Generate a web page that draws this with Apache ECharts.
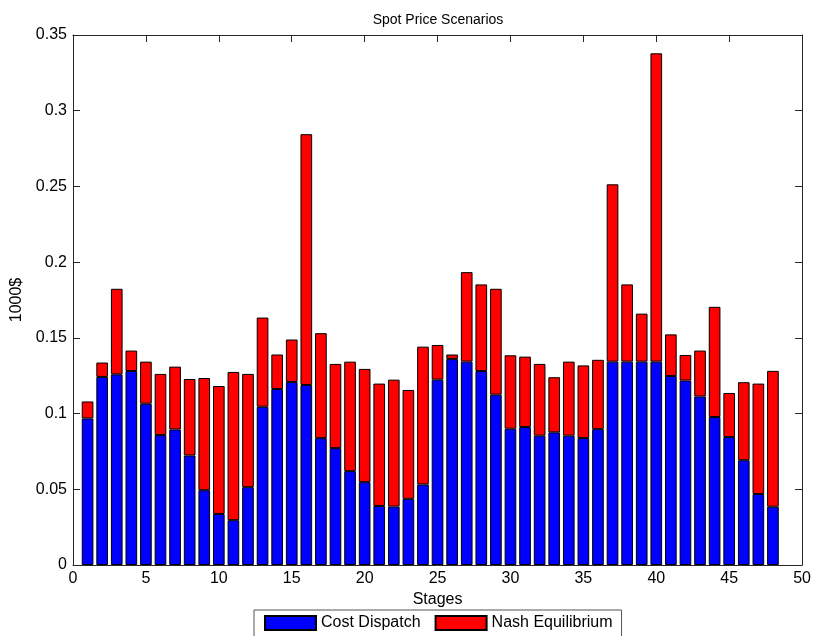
<!DOCTYPE html>
<html>
<head>
<meta charset="utf-8">
<script src="https://cdn.jsdelivr.net/npm/echarts@6/dist/echarts.min.js"></script>
<style>
html,body{margin:0;padding:0;background:#fff;}
#chart{width:814px;height:636px;}
</style>
</head>
<body>
<div id="chart"></div>
<script>
var stages = [1,2,3,4,5,6,7,8,9,10,11,12,13,14,15,16,17,18,19,20,21,22,23,24,25,26,27,28,29,30,31,32,33,34,35,36,37,38,39,40,41,42,43,44,45,46,47,48];
var costDispatch = [0.0968,0.1242,0.1259,0.1281,0.1065,0.0858,0.0895,0.0723,0.0494,0.0337,0.0296,0.0514,0.1045,0.1162,0.1209,0.1189,0.0838,0.0772,0.0620,0.0547,0.0390,0.0386,0.0437,0.0532,0.1224,0.1361,0.1343,0.1281,0.1125,0.0900,0.0911,0.0854,0.0876,0.0854,0.0838,0.0897,0.1343,0.1343,0.1343,0.1343,0.1248,0.1218,0.1113,0.0977,0.0845,0.0692,0.0469,0.0385];
var nashEquilibrium = [0.0112,0.0095,0.0565,0.0135,0.0278,0.0404,0.0415,0.0505,0.0741,0.0845,0.0979,0.0748,0.0589,0.0228,0.0280,0.1656,0.0693,0.0556,0.0723,0.0748,0.0808,0.0838,0.0719,0.0910,0.0229,0.0029,0.0591,0.0572,0.0699,0.0485,0.0465,0.0474,0.0364,0.0489,0.0480,0.0458,0.1171,0.0510,0.0317,0.2036,0.0275,0.0169,0.0303,0.0728,0.0291,0.0515,0.0729,0.0897];
var seriesNames = ['Cost Dispatch', 'Nash Equilibrium'];
var xTicks = {min: 0, max: 50, interval: 5};
var yTicks = {min: 0, max: 0.35, interval: 0.05};

var font = 'Liberation Sans, Arial, Helvetica, sans-serif';

// category slots for every integer stage position on the x range (bars sit on these)
var slots = [];
for (var v = xTicks.min; v <= xTicks.max; v++) slots.push(String(v));
function slotData(vals){
  var out = slots.map(function(){ return '-'; });
  stages.forEach(function(s, i){ out[slots.indexOf(String(s))] = vals[i]; });
  return out;
}

var axisLine = {show: true, onZero: false, lineStyle: {color: '#262626', width: 1}};
var tick = {show: true, inside: true, length: 7, lineStyle: {color: '#262626'}};

var chart = echarts.init(document.getElementById('chart'), null, {renderer: 'canvas'});
chart.setOption({
  animation: false,
  backgroundColor: '#fff',
  title: {
    text: 'Spot Price Scenarios',
    left: 433, top: 8, textAlign: 'center',
    textStyle: {fontFamily: font, fontSize: 14, fontWeight: 'normal', color: '#000'}
  },
  legend: {
    data: seriesNames,
    left: 254, top: 610,
    orient: 'horizontal',
    icon: 'rect',
    itemWidth: 51, itemHeight: 14, itemGap: 14,
    padding: [5, 9, 6, 10],
    borderColor: '#555', borderWidth: 1,
    backgroundColor: '#fff',
    textStyle: {fontFamily: font, fontSize: 16, color: '#000'}
  },
  grid: {left: 73, right: 10, top: 35, bottom: 71, containLabel: false},
  xAxis: [{
    type: 'value', min: xTicks.min, max: xTicks.max, interval: xTicks.interval,
    position: 'bottom',
    name: 'Stages', nameLocation: 'middle', nameGap: 26,
    nameTextStyle: {fontFamily: font, fontSize: 16, color: '#000'},
    axisLine: axisLine, axisTick: tick,
    axisLabel: {fontFamily: font, fontSize: 16, color: '#000', margin: 6},
    splitLine: {show: false}
  }, {
    type: 'value', min: xTicks.min, max: xTicks.max, interval: xTicks.interval,
    position: 'top',
    axisLine: axisLine, axisTick: tick,
    axisLabel: {show: false}, splitLine: {show: false}
  }, {
    type: 'category', data: slots, boundaryGap: false,
    position: 'bottom', show: false
  }],
  yAxis: [{
    type: 'value', min: yTicks.min, max: yTicks.max, interval: yTicks.interval,
    position: 'left',
    name: '1000$', nameLocation: 'middle', nameGap: 37,
    nameTextStyle: {fontFamily: font, fontSize: 16, color: '#000'},
    axisLine: axisLine, axisTick: tick,
    axisLabel: {fontFamily: font, fontSize: 16, color: '#000', margin: 6},
    splitLine: {show: false}
  }, {
    type: 'value', min: yTicks.min, max: yTicks.max, interval: yTicks.interval,
    position: 'right',
    axisLine: axisLine, axisTick: tick,
    axisLabel: {show: false}, splitLine: {show: false}
  }],
  series: [{
    name: seriesNames[0], type: 'bar', stack: 'total',
    xAxisIndex: 2, yAxisIndex: 0,
    barWidth: '80%',
    itemStyle: {color: '#0000ff', borderColor: '#000', borderWidth: 1},
    data: slotData(costDispatch)
  }, {
    name: seriesNames[1], type: 'bar', stack: 'total',
    xAxisIndex: 2, yAxisIndex: 0,
    barWidth: '80%',
    itemStyle: {color: '#ff0000', borderColor: '#000', borderWidth: 1},
    data: slotData(nashEquilibrium)
  }, {
    type: 'line', xAxisIndex: 1, yAxisIndex: 1, data: [], silent: true
  }]
});
</script>
</body>
</html>
